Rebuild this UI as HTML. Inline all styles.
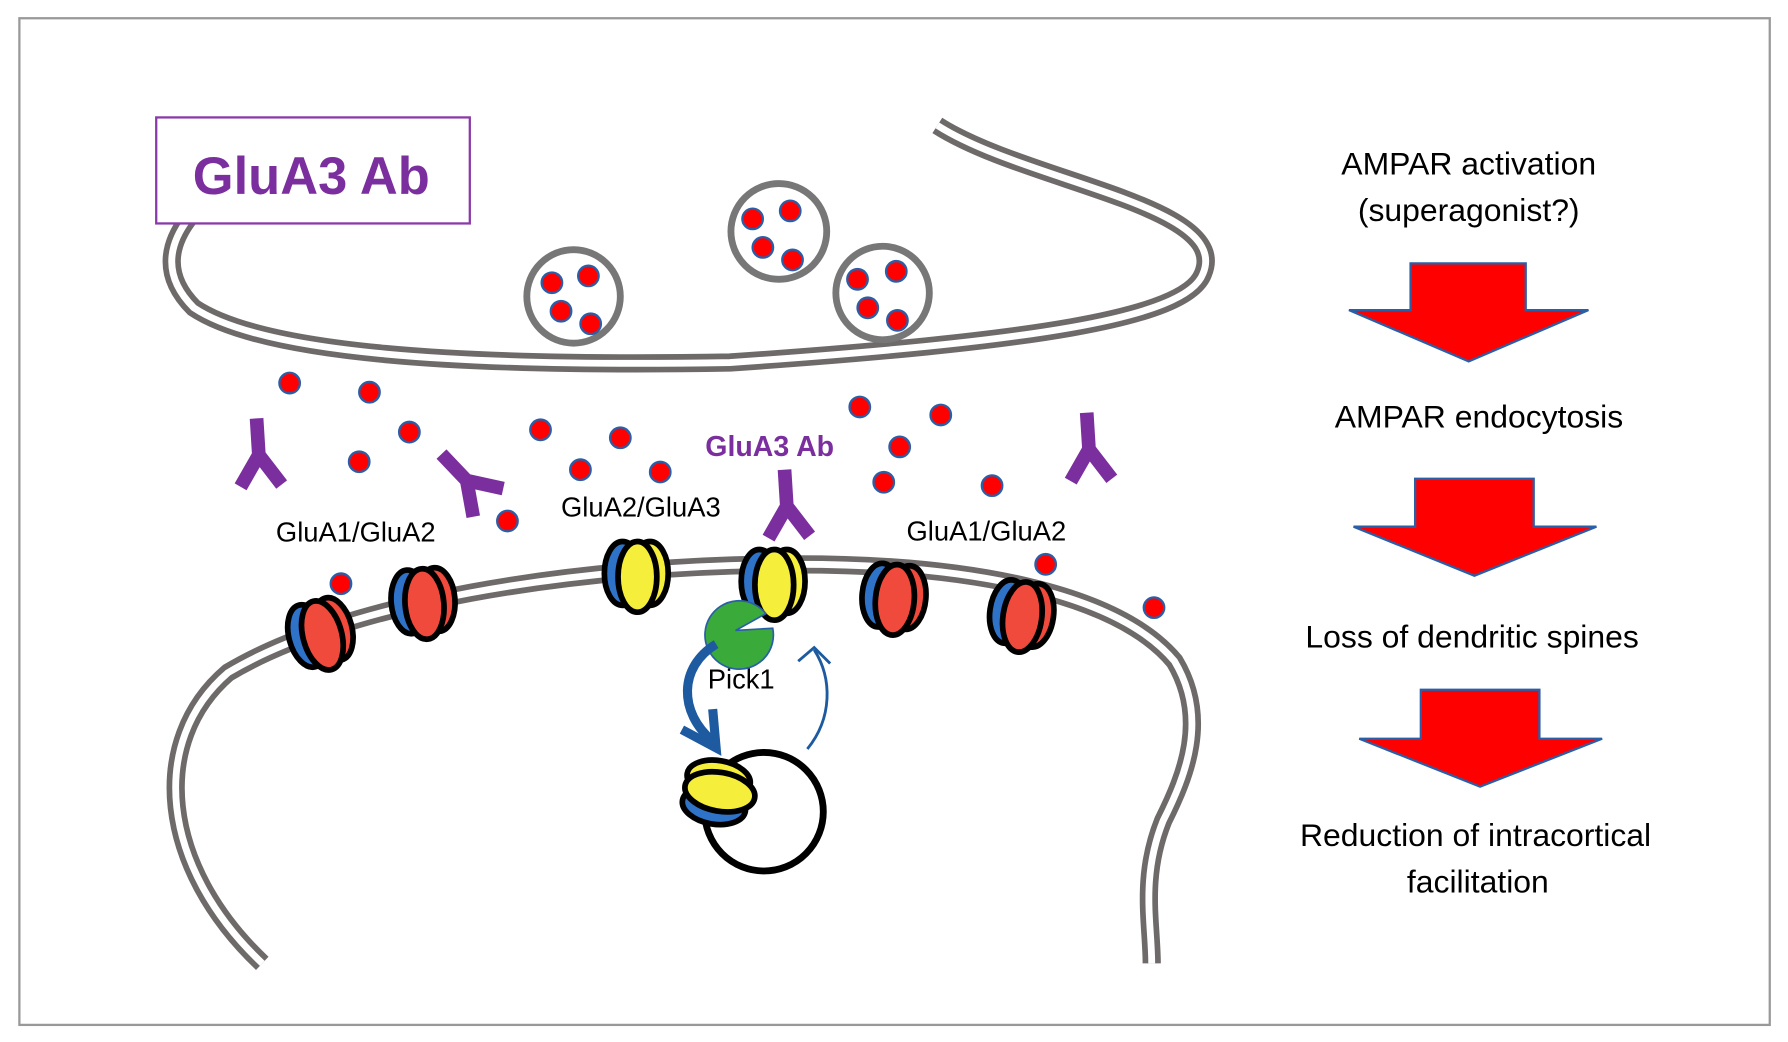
<!DOCTYPE html>
<html><head><style>body{margin:0;background:#fff}svg{display:block}</style></head><body>
<svg width="1788" height="1042" viewBox="0 0 1568 914" preserveAspectRatio="none" xmlns="http://www.w3.org/2000/svg" font-family="Liberation Sans, sans-serif">
<defs>
<g id="rr"><ellipse cx="-11" cy="0" rx="16" ry="28" fill="#2f73c8" stroke="#000" stroke-width="5"/><ellipse cx="13" cy="0" rx="16" ry="28" fill="#f04a3c" stroke="#000" stroke-width="5"/><ellipse cx="2" cy="3" rx="17" ry="31" fill="#f04a3c" stroke="#000" stroke-width="5"/></g>
<g id="ry"><ellipse cx="-11" cy="0" rx="16" ry="28" fill="#2f73c8" stroke="#000" stroke-width="5"/><ellipse cx="13" cy="0" rx="16" ry="28" fill="#f5ee3a" stroke="#000" stroke-width="5"/><ellipse cx="2" cy="3" rx="17" ry="31" fill="#f5ee3a" stroke="#000" stroke-width="5"/></g>
<g id="ab"><path d="M-2 -30 L0 2 M0 2 L-16 30 M0 2 L20 28" stroke="#7b2f9e" stroke-width="12" fill="none" stroke-linecap="butt"/></g>
<circle id="d" r="9" fill="#f00" stroke="#2a5fa8" stroke-width="2"/>
</defs>
<rect x="17" y="16" width="1535" height="883" fill="#fff" stroke="#999" stroke-width="2"/>
<g fill="none" stroke-linecap="butt">
<path d="M822 110 C900 160,1080 180,1055 240 C1040 280,900 300,640 318 C400 322,230 310,170 270 C140 240,150 212,165 192" stroke="#6e6a6a" stroke-width="16"/>
<path d="M822 110 C900 160,1080 180,1055 240 C1040 280,900 300,640 318 C400 322,230 310,170 270 C140 240,150 212,165 192" stroke="#fff" stroke-width="6"/>
<path d="M230 845 C140 760,130 650,200 590 C300 530,500 495,700 495 C850 495,980 520,1030 580 C1060 630,1040 680,1020 720 C1000 770,1010 810,1010 845" stroke="#6e6a6a" stroke-width="16"/>
<path d="M230 845 C140 760,130 650,200 590 C300 530,500 495,700 495 C850 495,980 520,1030 580 C1060 630,1040 680,1020 720 C1000 770,1010 810,1010 845" stroke="#fff" stroke-width="6"/>
</g>
<rect x="137" y="103" width="275" height="93" fill="#fff" stroke="#8a3aa8" stroke-width="2"/>
<text x="273" y="170" text-anchor="middle" font-size="46" font-weight="bold" fill="#7b2f9e">GluA3 Ab</text>
<g fill="#fff" stroke="#777" stroke-width="6">
<circle cx="503" cy="260" r="41"/><circle cx="683" cy="203" r="42"/><circle cx="774" cy="257" r="41"/></g>
<use href="#d" x="484" y="248"/><use href="#d" x="516" y="242"/><use href="#d" x="492" y="273"/><use href="#d" x="518" y="284"/>
<use href="#d" x="660" y="192"/><use href="#d" x="693" y="185"/><use href="#d" x="669" y="217"/><use href="#d" x="695" y="228"/>
<use href="#d" x="752" y="245"/><use href="#d" x="786" y="238"/><use href="#d" x="761" y="270"/><use href="#d" x="787" y="281"/>
<use href="#d" x="254" y="336"/><use href="#d" x="324" y="344"/><use href="#d" x="359" y="379"/><use href="#d" x="315" y="405"/><use href="#d" x="474" y="377"/><use href="#d" x="544" y="384"/><use href="#d" x="509" y="412"/><use href="#d" x="579" y="414"/><use href="#d" x="445" y="457"/><use href="#d" x="299" y="512"/><use href="#d" x="754" y="357"/><use href="#d" x="825" y="364"/><use href="#d" x="789" y="392"/><use href="#d" x="775" y="423"/><use href="#d" x="870" y="426"/><use href="#d" x="917" y="495"/><use href="#d" x="1012" y="533"/>
<use href="#ab" transform="translate(227,397)"/>
<use href="#ab" transform="translate(408,420) rotate(-40)"/>
<use href="#ab" transform="translate(690,442)"/>
<use href="#ab" transform="translate(955,392)"/>
<text x="675" y="400" text-anchor="middle" font-size="25" font-weight="bold" fill="#7b2f9e">GluA3 Ab</text>
<g font-size="24" fill="#000" text-anchor="middle">
<text x="312" y="475">GluA1/GluA2</text><text x="562" y="453">GluA2/GluA3</text><text x="865" y="474">GluA1/GluA2</text><text x="650" y="604">Pick1</text></g>
<use href="#rr" transform="translate(280,555) rotate(-15)"/>
<use href="#rr" transform="translate(370,527) rotate(-5)"/>
<use href="#ry" transform="translate(557,503)"/>
<use href="#ry" transform="translate(677,510)"/>
<use href="#rr" transform="translate(783,523) rotate(5)"/>
<use href="#rr" transform="translate(895,538) rotate(8)"/>
<path d="M645 553 L675 540 A30 30 0 1 1 665 530 Z" fill="#3aaa3a" stroke="#2a5fa8" stroke-width="1.5" transform="rotate(20 645 553)"/>
<circle cx="670" cy="712" r="52" fill="#fff" stroke="#000" stroke-width="6"/>
<use href="#ry" transform="translate(628,696) rotate(-80)"/>
<path d="M628 565 C595 585,595 625,625 650" fill="none" stroke="#1e5aa0" stroke-width="8"/>
<path d="M598 640 L628 656 L625 622" fill="none" stroke="#1e5aa0" stroke-width="8"/>
<path d="M708 657 C730 630,730 595,714 570 M700 580 L714 568 L728 582" fill="none" stroke="#1e5aa0" stroke-width="2.5"/>
<g font-size="28" fill="#000" text-anchor="middle">
<text x="1288" y="153">AMPAR activation</text><text x="1288" y="194">(superagonist?)</text>
<text x="1297" y="375">AMPAR endocytosis</text>
<text x="1291" y="568">Loss of dendritic spines</text>
<text x="1294" y="742">Reduction of intracortical</text><text x="1296" y="783">facilitation</text></g>
<g fill="#f00" stroke="#2a5fa8" stroke-width="2">
<path d="M1237 231 H1338 V272 H1393 L1288 317 L1183 272 H1237 Z"/>
<path d="M1241 420 H1345 V462 H1400 L1293 505 L1187 462 H1241 Z"/>
<path d="M1246 605 H1350 V648 H1405 L1298 690 L1192 648 H1246 Z"/></g>
</svg>
</body></html>
